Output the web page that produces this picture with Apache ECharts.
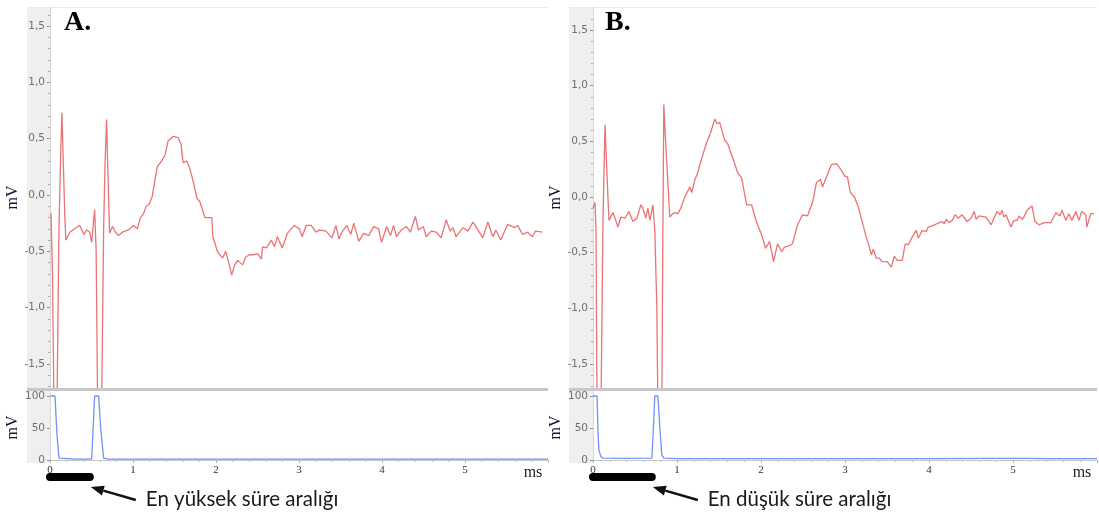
<!DOCTYPE html>
<html>
<head>
<meta charset="utf-8">
<script src="https://cdn.jsdelivr.net/npm/echarts@6/dist/echarts.min.js"></script>
<style>
  html, body { margin: 0; padding: 0; background: #ffffff; }
  #c { width: 1099px; height: 515px; }
</style>
</head>
<body>
<div id="c"></div>
<script>
// ---- Recording A: evoked response (mV) over time (ms) ----
const timeA = [0.012,0.030,0.048,0.084,0.108,0.132,0.144,0.156,0.179,0.191,
  0.239,0.275,0.311,0.359,0.407,0.443,0.478,0.502,0.538,0.556,
  0.574,0.622,0.646,0.664,0.682,0.694,0.718,0.754,0.789,0.825,
  0.873,0.945,1.005,1.053,1.089,1.124,1.160,1.196,1.232,1.292,
  1.352,1.388,1.423,1.483,1.543,1.579,1.603,1.651,1.687,1.722,
  1.770,1.806,1.866,1.950,1.962,2.022,2.081,2.117,2.153,2.189,
  2.225,2.261,2.321,2.357,2.404,2.452,2.500,2.548,2.560,2.608,
  2.667,2.703,2.739,2.799,2.859,2.943,3.002,3.038,3.086,3.146,
  3.206,3.242,3.325,3.397,3.445,3.481,3.517,3.577,3.624,3.660,
  3.720,3.780,3.840,3.900,3.959,3.995,4.055,4.103,4.139,4.175,
  4.234,4.294,4.342,4.402,4.438,4.498,4.533,4.593,4.653,4.713,
  4.773,4.821,4.856,4.892,4.976,5.036,5.096,5.156,5.215,5.275,
  5.335,5.371,5.431,5.514,5.598,5.634,5.694,5.754,5.813,5.849,
  5.933];
const voltA = [-0.16,-0.7,-1.9,-1.9,-0.3,0.45,0.73,0.4,-0.2,-0.40,
  -0.33,-0.31,-0.29,-0.27,-0.35,-0.31,-0.33,-0.42,-0.13,-0.5,
  -1.9,-1.9,-0.3,0.3,0.67,0.3,-0.34,-0.28,-0.33,-0.36,
  -0.33,-0.31,-0.27,-0.30,-0.20,-0.17,-0.10,-0.08,-0.01,0.25,
  0.31,0.36,0.48,0.52,0.51,0.45,0.29,0.30,0.23,0.13,
  -0.03,-0.06,-0.20,-0.20,-0.37,-0.51,-0.56,-0.50,-0.60,-0.71,
  -0.62,-0.58,-0.62,-0.55,-0.53,-0.53,-0.52,-0.57,-0.46,-0.47,
  -0.40,-0.46,-0.37,-0.47,-0.34,-0.27,-0.30,-0.37,-0.27,-0.27,
  -0.33,-0.31,-0.32,-0.38,-0.27,-0.39,-0.33,-0.27,-0.35,-0.25,
  -0.41,-0.34,-0.36,-0.28,-0.30,-0.42,-0.28,-0.36,-0.27,-0.37,
  -0.31,-0.28,-0.33,-0.19,-0.31,-0.28,-0.37,-0.32,-0.33,-0.38,
  -0.22,-0.32,-0.29,-0.37,-0.29,-0.32,-0.24,-0.31,-0.38,-0.24,
  -0.37,-0.31,-0.40,-0.26,-0.29,-0.27,-0.35,-0.33,-0.37,-0.32,
  -0.33];
// stimulus channel A
const pulseTimeA = [0.010,0.060,0.084,0.108,0.132,0.300,0.502,0.520,0.538,0.586,0.610,0.646,0.700,1.500,2.500,3.500,4.500,5.500,6.000];
const pulseA     = [100,100,40,3,1.5,1.5,1.5,50,100,100,50,3,1.5,1.5,1.5,1.5,1.5,1.5,1.5];

// ---- Recording B ----
const timeB = [0.000,0.024,0.036,0.048,0.095,0.119,0.143,0.166,0.190,0.238,
  0.297,0.333,0.380,0.428,0.475,0.523,0.570,0.594,0.629,0.653,
  0.677,0.713,0.736,0.760,0.772,0.819,0.831,0.843,0.861,0.879,
  0.914,0.950,0.974,1.010,1.045,1.093,1.152,1.176,1.211,1.247,
  1.295,1.354,1.401,1.449,1.473,1.508,1.568,1.603,1.663,1.722,
  1.770,1.829,1.888,1.948,2.007,2.055,2.102,2.150,2.197,2.245,
  2.280,2.328,2.375,2.435,2.494,2.553,2.613,2.660,2.708,2.732,
  2.779,2.838,2.898,2.957,2.993,3.029,3.064,3.112,3.159,3.207,
  3.254,3.290,3.314,3.337,3.373,3.409,3.444,3.504,3.551,3.587,
  3.622,3.682,3.717,3.753,3.800,3.848,3.872,3.919,3.967,3.990,
  4.038,4.097,4.157,4.181,4.204,4.240,4.276,4.311,4.347,4.394,
  4.454,4.501,4.537,4.561,4.596,4.679,4.739,4.810,4.846,4.869,
  4.893,4.917,4.976,5.012,5.048,5.071,5.107,5.131,5.166,5.226,
  5.261,5.309,5.368,5.451,5.511,5.558,5.582,5.629,5.665,5.701,
  5.748,5.784,5.819,5.867,5.879,5.926,5.962];
const voltB = [-0.10,-0.05,-0.3,-1.9,-1.9,-0.2,0.65,0.21,-0.21,-0.14,
  -0.27,-0.18,-0.19,-0.13,-0.22,-0.19,-0.07,-0.10,-0.19,-0.10,
  -0.21,-0.07,-0.30,-1.0,-1.9,-1.9,-0.4,0.83,0.55,0.30,
  -0.18,-0.15,-0.14,-0.15,-0.10,0.0,0.09,0.04,0.15,0.22,
  0.35,0.49,0.58,0.70,0.66,0.67,0.51,0.48,0.35,0.22,
  0.17,-0.07,-0.07,-0.23,-0.34,-0.46,-0.40,-0.58,-0.42,-0.49,
  -0.45,-0.44,-0.42,-0.25,-0.16,-0.17,-0.05,0.13,0.16,0.09,
  0.18,0.29,0.30,0.24,0.19,0.18,0.04,0.0,-0.09,-0.23,
  -0.36,-0.45,-0.52,-0.47,-0.55,-0.55,-0.58,-0.58,-0.63,-0.53,
  -0.57,-0.57,-0.42,-0.43,-0.36,-0.30,-0.37,-0.30,-0.31,-0.27,
  -0.26,-0.24,-0.22,-0.24,-0.20,-0.23,-0.21,-0.16,-0.19,-0.16,
  -0.22,-0.19,-0.13,-0.20,-0.17,-0.18,-0.25,-0.13,-0.16,-0.12,
  -0.18,-0.16,-0.27,-0.21,-0.21,-0.17,-0.20,-0.18,-0.12,-0.08,
  -0.22,-0.25,-0.23,-0.23,-0.14,-0.17,-0.12,-0.21,-0.15,-0.21,
  -0.13,-0.21,-0.13,-0.16,-0.27,-0.15,-0.15];
// stimulus channel B
const pulseTimeB = [0.000,0.048,0.060,0.071,0.095,0.119,0.400,0.701,0.719,0.736,0.772,0.796,0.819,0.843,1.000,2.000,3.000,4.000,4.700,4.900,5.200,5.400,6.000];
const pulseB     = [100,100,40,15,5,3,2.5,3,50,100,100,50,8,3,2,2,2,2,2.5,2.5,2.5,2,2];

// tick labels
const xTicks = [0, 1, 2, 3, 4, 5, 6];
const xUnit = 'ms';
const yTicksTop = [-1.5, -1.0, -0.5, 0.0, 0.5, 1.0, 1.5];
const yTicksBottom = [0, 50, 100];
const yUnit = 'mV';

// marked time spans (ms) and their captions
const spanA = [0, 0.48];
const spanB = [0, 0.70];
const captionA = 'En yüksek süre aralığı';
const captionB = 'En düşük süre aralığı';

const yMinorTop = [];
for (let k = -17; k <= 16; k++) { if (k % 5 !== 0) yMinorTop.push(k / 10); }

const pairs = (xs, ys) => xs.map((x, i) => [x, ys[i]]);
const comma = v => v.toFixed(1).replace('.', ',');

const RED = '#eb7373';
const BLUE = '#7092f3';
const GRAY_TXT = '#707070';

const panels = [
  { left: 50, width: 498, topMin: -1.713, topMax: 1.669 },
  { left: 593, width: 504, topMin: -1.716, topMax: 1.707 }
];

const grid = [], xAxis = [], yAxis = [];
panels.forEach((p, i) => {
  grid.push({ left: p.left, top: 7, width: p.width, height: 381 });
  grid.push({ left: p.left, top: 392, width: p.width, height: 71 });
  const gTop = i * 2, gBot = i * 2 + 1;
  xAxis.push({ type: 'value', gridIndex: gTop, min: xTicks[0], max: xTicks[xTicks.length - 1], interval: 1, show: false });
  xAxis.push({
    type: 'value', gridIndex: gBot, min: xTicks[0], max: xTicks[xTicks.length - 1], interval: 1,
    axisLine: { show: true, lineStyle: { color: '#c4c4c4', width: 1 } },
    axisTick: { show: true, length: 3, lineStyle: { color: '#b0b0b0' } },
    minorTick: { show: true, splitNumber: 5, length: 2, lineStyle: { color: '#c0c0c0' } },
    splitLine: { show: false },
    axisLabel: {
      margin: 2, color: '#333', fontFamily: 'Liberation Serif', fontSize: 11,
      showMinLabel: true, showMaxLabel: true,
      formatter: v => (v === xTicks[xTicks.length - 1] ? '{u|' + xUnit + '}' : String(v)),
      rich: { u: { fontFamily: 'Liberation Serif', fontSize: 16, color: '#222', padding: [0, 30, 0, 0] } }
    }
  });
  // main voltage axis
  yAxis.push({
    type: 'value', gridIndex: gTop, position: 'left', min: p.topMin, max: p.topMax,
    name: yUnit, nameLocation: 'middle', nameRotate: 90, nameGap: 24,
    nameTextStyle: { fontFamily: 'Liberation Serif', fontSize: 16, color: '#15153a' },
    axisLine: { show: true, lineStyle: { color: '#d8d8d8' } },
    axisTick: { show: true, length: 3, customValues: yTicksTop, lineStyle: { color: '#909090' } },
    splitLine: { show: false },
    axisLabel: { customValues: yTicksTop, margin: 5, color: GRAY_TXT, fontFamily: 'DejaVu Sans', fontSize: 10.5, formatter: comma }
  });
  // minor ticks of voltage axis
  yAxis.push({
    type: 'value', gridIndex: gTop, position: 'left', min: p.topMin, max: p.topMax,
    axisLine: { show: false },
    axisTick: { show: true, length: 2, customValues: yMinorTop, lineStyle: { color: '#a8a8a8' } },
    splitLine: { show: false },
    axisLabel: { show: false }
  });
  // stimulus axis
  yAxis.push({
    type: 'value', gridIndex: gBot, position: 'left', min: -4.7, max: 106.25,
    name: yUnit, nameLocation: 'middle', nameRotate: 90, nameGap: 24,
    nameTextStyle: { fontFamily: 'Liberation Serif', fontSize: 16, color: '#15153a' },
    axisLine: { show: true, lineStyle: { color: '#d8d8d8' } },
    axisTick: { show: true, length: 3, customValues: yTicksBottom, lineStyle: { color: '#909090' } },
    splitLine: { show: false },
    axisLabel: { customValues: yTicksBottom, margin: 5, color: GRAY_TXT, fontFamily: 'DejaVu Sans', fontSize: 10.5 }
  });
});

const lineSeries = (xi, yi, data, color) => ({
  type: 'line', xAxisIndex: xi, yAxisIndex: yi, data, symbol: 'none', showSymbol: false,
  clip: true, silent: true, lineStyle: { color, width: 1.3 }, z: 3
});

const series = [
  lineSeries(0, 0, pairs(timeA, voltA), RED),
  lineSeries(1, 2, pairs(pulseTimeA, pulseA), BLUE),
  lineSeries(2, 3, pairs(timeB, voltB), RED),
  lineSeries(3, 5, pairs(pulseTimeB, pulseB), BLUE)
];

// panel frames: label band, top edge, separator between the two traces
const frame = [];
[[27, 50, 548], [569, 593, 1097]].forEach(([x0, x1, x2]) => {
  frame.push({ type: 'rect', z: -5, shape: { x: x0, y: 7, width: x1 - x0, height: 456 }, style: { fill: '#efefef' } });
  frame.push({ type: 'rect', z: -5, shape: { x: x0, y: 7, width: x2 - x0, height: 1 }, style: { fill: '#ececec' } });
  frame.push({ type: 'rect', z: 10, shape: { x: x0, y: 388, width: x2 - x0, height: 3 }, style: { fill: '#c8c8c8' } });
});

const chart = echarts.init(document.getElementById('c'), null, { renderer: 'canvas' });
chart.setOption({
  animation: false,
  backgroundColor: '#ffffff',
  grid, xAxis, yAxis, series,
  graphic: frame
});

// annotations under the time axes, positioned from the axis scale
function annotation(xAxisIndex, span, caption, panelLetter, letterX) {
  const a = chart.convertToPixel({ xAxisIndex }, span[0]);
  const b = chart.convertToPixel({ xAxisIndex }, span[1]);
  const barY = 477;
  const head = [b + 1, 487];
  const tail = [b + 46, 500];
  const ang = Math.atan2(head[1] - tail[1], head[0] - tail[0]);
  const L = 13, W = 5;
  const bx = head[0] - L * Math.cos(ang), by = head[1] - L * Math.sin(ang);
  const nx = -Math.sin(ang), ny = Math.cos(ang);
  return [
    { type: 'line', z: 20, shape: { x1: a, y1: barY, x2: b, y2: barY },
      style: { stroke: '#000', lineWidth: 8, lineCap: 'round' } },
    { type: 'line', z: 20, shape: { x1: tail[0], y1: tail[1], x2: bx, y2: by },
      style: { stroke: '#111', lineWidth: 2.5 } },
    { type: 'polygon', z: 20, shape: { points: [head, [bx + nx * W, by + ny * W], [bx - nx * W, by - ny * W]] },
      style: { fill: '#111' } },
    { type: 'text', z: 20, x: tail[0] + 10, y: 499,
      style: { text: caption, fontFamily: 'Lato', fontSize: 20.5, fill: '#1a1a1a', textVerticalAlign: 'middle' } },
    { type: 'text', z: 20, x: letterX, y: 9,
      style: { text: panelLetter, fontFamily: 'Liberation Serif', fontWeight: 'bold', fontSize: 28, fill: '#000', textVerticalAlign: 'top' } }
  ];
}

chart.setOption({
  graphic: frame.concat(annotation(1, spanA, captionA, 'A.', 64), annotation(3, spanB, captionB, 'B.', 605))
});
</script>
</body>
</html>
